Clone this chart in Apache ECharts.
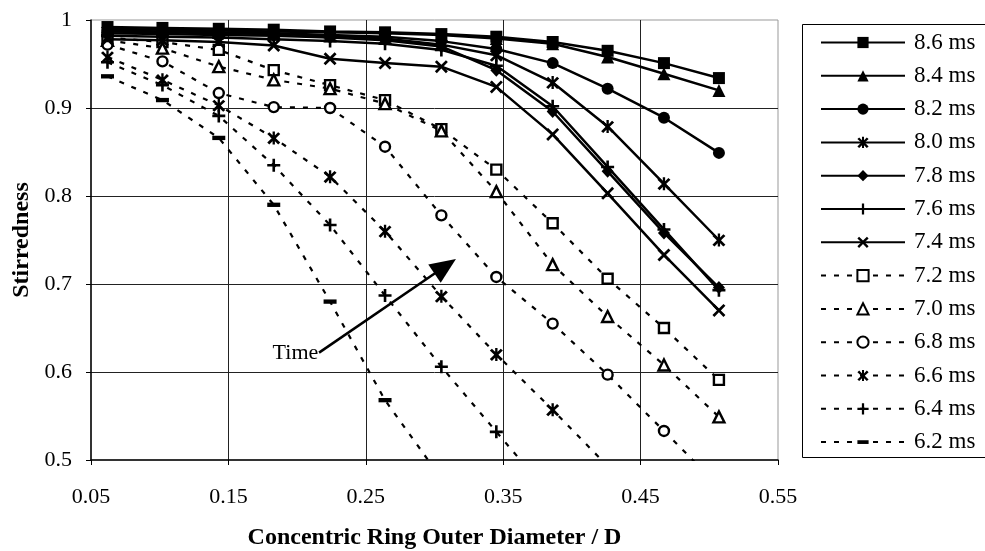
<!DOCTYPE html>
<html>
<head>
<meta charset="utf-8">
<script src="https://cdn.jsdelivr.net/npm/echarts@6/dist/echarts.min.js"></script>
<style>
html,body{margin:0;padding:0;background:#fff;}
#chart{width:985px;height:551px;}
</style>
</head>
<body>
<div id="chart"></div>
<script>
// ---- data ----
const xValues = [0.062, 0.102, 0.143, 0.183, 0.224, 0.264, 0.305, 0.345, 0.386, 0.426, 0.467, 0.507];
const xTicks = [0.05, 0.15, 0.25, 0.35, 0.45, 0.55];
const yTicks = [0.5, 0.6, 0.7, 0.8, 0.9, 1];
const seriesNames = ['8.6 ms','8.4 ms','8.2 ms','8.0 ms','7.8 ms','7.6 ms','7.4 ms','7.2 ms','7.0 ms','6.8 ms','6.6 ms','6.4 ms','6.2 ms'];
const s86 = [0.992, 0.991, 0.990, 0.989, 0.987, 0.986, 0.984, 0.981, 0.975, 0.965, 0.951, 0.934];
const s84 = [0.990, 0.989, 0.988, 0.987, 0.986, 0.985, 0.983, 0.979, 0.973, 0.958, 0.939, 0.920];
const s82 = [0.988, 0.987, 0.986, 0.985, 0.983, 0.981, 0.976, 0.967, 0.951, 0.922, 0.889, 0.849];
const s80 = [0.987, 0.986, 0.985, 0.984, 0.982, 0.979, 0.972, 0.960, 0.929, 0.879, 0.814, 0.750];
const s78 = [0.985, 0.984, 0.983, 0.982, 0.980, 0.977, 0.970, 0.943, 0.896, 0.828, 0.758, 0.696];
const s76 = [0.982, 0.981, 0.980, 0.978, 0.976, 0.973, 0.966, 0.948, 0.902, 0.833, 0.762, 0.693];
const s74 = [0.978, 0.977, 0.975, 0.971, 0.956, 0.951, 0.947, 0.924, 0.870, 0.803, 0.733, 0.670];
const s72 = [0.980, 0.975, 0.966, 0.943, 0.926, 0.909, 0.876, 0.830, 0.769, 0.706, 0.650, 0.591];
const s70 = [0.977, 0.968, 0.947, 0.932, 0.922, 0.905, 0.874, 0.805, 0.722, 0.663, 0.608, 0.549];
const s68 = [0.972, 0.953, 0.917, 0.901, 0.900, 0.856, 0.778, 0.708, 0.655, 0.597, 0.533, 0.470];
const s66 = [0.958, 0.932, 0.903, 0.866, 0.822, 0.760, 0.686, 0.620, 0.557, 0.493, null, null];
const s64 = [0.952, 0.926, 0.891, 0.835, 0.767, 0.687, 0.606, 0.532, 0.457, null, null, null];
const s62 = [0.936, 0.909, 0.866, 0.790, 0.680, 0.568, 0.479, null, null, null, null, null];
const seriesValues = [s86, s84, s82, s80, s78, s76, s74, s72, s70, s68, s66, s64, s62];
// annotation ("Time" arrow) in data coordinates
const arrowStart = [0.216, 0.622];
const arrowEnd = [0.3078, 0.7202];
const arrowLabel = 'Time';

// ---- styles ----
const P_PLUS = 'path://M4,0H6V4H10V6H6V10H4V6H0V4H4Z';
const P_X = 'path://M0,1.5L1.5,0L5,3.5L8.5,0L10,1.5L6.5,5L10,8.5L8.5,10L5,6.5L1.5,10L0,8.5L3.5,5Z';
const P_AST = 'path://M0,2L1.6,0.6L5,4L8.4,0.6L10,2L6.6,5.2L10,8.6L8.4,10L5,6.6L1.6,10L0,8.6L3.4,5.2Z M4.1,0H5.9V10H4.1Z';
const P_DASH = 'path://M0,0M12,12M0,4H12V8H0Z';
const styles = [
  {symbol:'rect', size:12, open:false, dash:false},
  {symbol:'triangle', size:13, open:false, dash:false},
  {symbol:'circle', size:12, open:false, dash:false},
  {symbol:P_AST, size:13, open:false, dash:false},
  {symbol:'diamond', size:[12,13], open:false, dash:false},
  {symbol:P_PLUS, size:13, open:false, dash:false},
  {symbol:P_X, size:13, open:false, dash:false},
  {symbol:'rect', size:10, open:true, dash:true},
  {symbol:'triangle', size:11, open:true, dash:true},
  {symbol:'circle', size:10, open:true, dash:true},
  {symbol:P_AST, size:13, open:false, dash:true},
  {symbol:P_PLUS, size:13, open:false, dash:true},
  {symbol:P_DASH, size:13, open:false, dash:true}
];

const FONT = 'Liberation Serif';

const series = seriesNames.map((name, i) => {
  const st = styles[i];
  const data = [];
  seriesValues[i].forEach((v, j) => { if (v !== null) data.push([xValues[j], v]); });
  const s = {
    name: name,
    type: 'line',
    data: data,
    symbol: st.symbol,
    symbolSize: st.size,
    showSymbol: true,
    clip: true,
    z: 10 - (st.dash ? 1 : 0),
    lineStyle: {color:'#000', width: st.dash ? 2.2 : 2.5, type: st.dash ? [5, 8] : 'solid'},
    itemStyle: st.open ? {color:'#fff', borderColor:'#000', borderWidth:2.4, opacity:1}
                       : {color:'#000', borderWidth:0, opacity:1},
    emphasis: {disabled:true},
    animation: false
  };
  if (i === 0) {
    s.markLine = {
      silent: true,
      animation: false,
      symbol: ['none', 'triangle'],
      symbolSize: [22, 26],
      lineStyle: {color:'#000', width:2.5, type:'solid'},
      label: {show:true, position:'start', formatter: arrowLabel, color:'#000',
              fontFamily: FONT, fontSize: 22, distance: 1, padding:[14,0,0,0]},
      data: [[{coord: arrowStart}, {coord: arrowEnd}]]
    };
  }
  return s;
});

const chart = echarts.init(document.getElementById('chart'));
chart.setOption({
  animation: false,
  backgroundColor: '#fff',
  textStyle: {fontFamily: FONT},
  grid: {left: 91, top: 20, right: 207, bottom: 91, show: true, borderColor:'#999', borderWidth:1,
         containLabel:false, outerBoundsMode:'none'},
  graphic: [{
    type: 'rect', silent: true, z: 0,
    shape: {x: 802.5, y: 24.5, width: 220, height: 433},
    style: {fill: 'none', stroke: '#000', lineWidth: 1}
  }],
  legend: {
    orient: 'vertical',
    left: 802, top: 24,
    data: seriesNames,
    itemWidth: 84, itemHeight: 14, itemGap: 10.3,
    padding: [7, 10, 6, 18],
    selectedMode: false,
    textStyle: {fontFamily: FONT, fontSize: 23, color:'#000', padding:[0,0,0,4]}
  },
  xAxis: {
    type: 'value', min: xTicks[0], max: xTicks[xTicks.length-1], interval: 0.1,
    name: 'Concentric Ring Outer Diameter / D', nameLocation: 'middle', nameGap: 66,
    nameTextStyle: {fontFamily: FONT, fontSize: 24, fontWeight:'bold', color:'#000'},
    axisLine: {show:true, lineStyle:{color:'#000', width:1.5}},
    axisTick: {show:true, length:5, lineStyle:{color:'#000'}},
    axisLabel: {fontFamily: FONT, fontSize: 22, color:'#000', margin: 26, formatter: v => v.toFixed(2)},
    splitLine: {show:true, showMinLine:false, showMaxLine:false, lineStyle:{color:'#222', width:1}}
  },
  yAxis: {
    type: 'value', min: yTicks[0], max: yTicks[yTicks.length-1], interval: 0.1,
    name: 'Stirredness', nameLocation: 'middle', nameGap: 50,
    nameTextStyle: {fontFamily: FONT, fontSize: 24, fontWeight:'bold', color:'#000'},
    axisLine: {show:true, lineStyle:{color:'#000', width:1.5}},
    axisTick: {show:true, length:5, lineStyle:{color:'#000'}},
    axisLabel: {fontFamily: FONT, fontSize: 22, color:'#000', margin: 19,
                formatter: v => (Math.abs(v-1) < 1e-9 ? '1' : v.toFixed(1))},
    splitLine: {show:true, showMinLine:false, showMaxLine:false, lineStyle:{color:'#222', width:1}}
  },
  series: series
});
</script>
</body>
</html>
